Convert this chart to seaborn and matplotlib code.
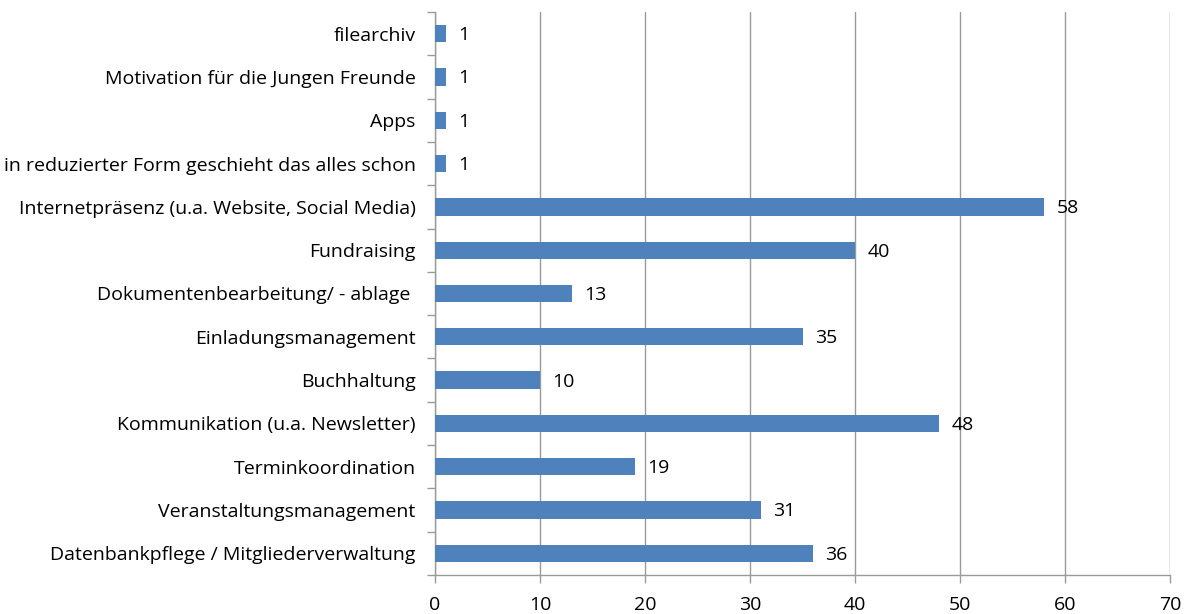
import matplotlib
matplotlib.use("Agg")
import matplotlib.pyplot as plt
import seaborn as sns
import pandas as pd
import numpy as np

categories = [
    "filearchiv",
    "Motivation für die Jungen Freunde",
    "Apps",
    "in reduzierter Form geschieht das alles schon",
    "Internetpräsenz (u.a. Website, Social Media)",
    "Fundraising",
    "Dokumentenbearbeitung/ - ablage ",
    "Einladungsmanagement",
    "Buchhaltung",
    "Kommunikation (u.a. Newsletter)",
    "Terminkoordination",
    "Veranstaltungsmanagement",
    "Datenbankpflege / Mitgliederverwaltung",
]
values = [1, 1, 1, 1, 58, 40, 13, 35, 10, 48, 19, 31, 36]
x_ticks = [0, 10, 20, 30, 40, 50, 60, 70]

sns.set_theme(style="white")
plt.rcParams['font.family'] = ['Open Sans', 'DejaVu Sans']

df = pd.DataFrame({"cat": categories, "val": values})

fig = plt.figure(figsize=(11.94, 6.14), dpi=100)
ax = fig.add_axes([435/1194, 1-575/614, (1170-435)/1194, (575-12)/614])

sns.barplot(data=df, x="val", y="cat", order=categories, color="#4F81BD",
            saturation=1, width=0.4, ax=ax, zorder=3, linewidth=0)

grid_c = "#9A9A9A"
fs = 14
ax.set_xlim(0, 70)
ax.set_ylim(len(categories)-0.5, -0.5)
ax.set_xticks(x_ticks)
ax.set_xticklabels([str(t) for t in x_ticks], fontsize=fs, color="#000000")
ax.tick_params(axis="x", length=6, color=grid_c, width=1, pad=9, direction="out", bottom=True)
ax.xaxis.grid(True, color=grid_c, linewidth=1, zorder=0)
ax.set_axisbelow(True)

ax.set_yticks(range(len(categories)))
ax.set_yticklabels(categories, fontsize=fs, color="#000000")
ax.tick_params(axis="y", which="major", length=0, pad=14)
ax.set_yticks(np.arange(-0.5, len(categories)), minor=True)
ax.tick_params(axis="y", which="minor", length=6, color=grid_c, width=1, left=True, direction="out")

ax.set_xlabel("")
ax.set_ylabel("")
for s in ["top", "right"]:
    ax.spines[s].set_visible(False)
for s in ["left", "bottom"]:
    ax.spines[s].set_color(grid_c)
    ax.spines[s].set_linewidth(1)

for i, v in enumerate(values):
    ax.annotate(str(v), xy=(v, i), xytext=(9, -1), textcoords="offset points",
                va="center", ha="left", fontsize=fs, color="#000000")

fig.savefig("out.png", dpi=100)
